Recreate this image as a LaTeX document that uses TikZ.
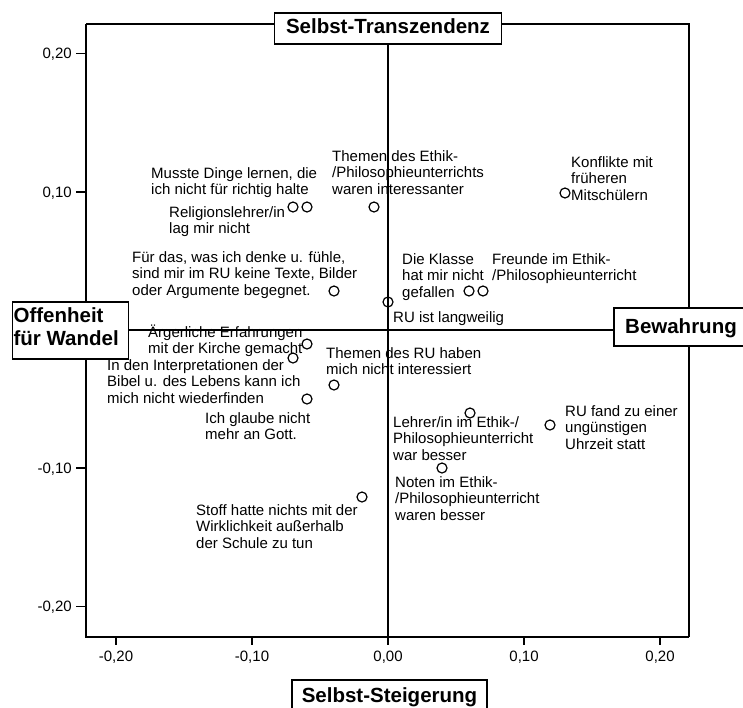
\documentclass[tikz,border=0pt]{standalone}
\usepackage{fontspec}
\setmainfont{Liberation Sans}
\newcommand\mlines[1]{\begin{tabular}[t]{@{}l@{}}#1\end{tabular}}
\begin{document}
\begin{tikzpicture}[x=1pt,y=-1pt,
  lbl/.style={anchor=base west, inner sep=0pt, font=\fontsize{15}{16.5}\selectfont},
  ticklbl/.style={inner sep=0pt, font=\fontsize{15}{18}\selectfont},
  obs/.style={circle, draw, line width=1.2pt, minimum size=10pt, inner sep=0pt},
  axbox/.style={draw, fill=white, line width=1.2pt, inner sep=0pt, font=\fontsize{20.5}{23}\selectfont\bfseries},
  ticks/.style={line width=1.5pt},
]
\useasboundingbox (0,0) rectangle (743,707);
% frame
\coordinate (tl) at (86,24);
\coordinate (tr) at (689,24);
\coordinate (bl) at (86,636.5);
\coordinate (br) at (689,636.5);
\coordinate (O) at (388,330);
\draw[line width=1.5pt] (tl) -- (tr) -- (br);
\draw[line width=2pt] (tl) -- (bl) -- (br);
% y ticks
\foreach \yy/\tx in {53.5/{0,20},192/{0,10},468/{-0,10},606.5/{-0,20}}{
  \coordinate (yt) at (86,\yy);
  \draw[ticks] (yt) -- ++(-10,0);
  \node[ticklbl, anchor=base east] at (72,\yy+5.4) {\tx};
}
% x ticks
\foreach \xx/\tx in {116/{-0,20},252/{-0,10},388/{0,00},524/{0,10},660/{0,20}}{
  \coordinate (xt) at (\xx,636.5);
  \draw[ticks] (xt) -- ++(0,8.5);
  \node[ticklbl, anchor=base] at (\xx,661.5) {\tx};
}
% axis boxes
\node[axbox, anchor=base, minimum width=227pt, text height=20pt, text depth=11pt] (tz) at (388,33) {Selbst-Transzendenz};
\node[axbox, anchor=base, minimum width=134pt, text height=25pt, text depth=13pt] (bew) at (681,333) {Bewahrung};
\node[axbox, anchor=base, minimum width=195pt, text height=22pt, text depth=10pt] (st) at (389.5,702) {Selbst-Steigerung};
\node[axbox, anchor=base west, inner xsep=1pt, text height=20pt, text depth=37pt] (off) at (12,322)
  {\begin{tabular}[t]{@{}p{114pt}@{}}Offenheit\\für Wandel\end{tabular}};
% axes
\draw[line width=1.2pt] (off.east |- O) -- (bew.west |- O);
\draw[line width=1.2pt] (tz.south -| O) -- (O |- bl);
% observations
\node[obs] (p1) at (293,207) {};
\node[obs] (p2) at (307,207) {};
\node[obs] (p3) at (374,207) {};
\node[obs] (p4) at (565,193) {};
\node[obs] (p5) at (334,291) {};
\node[obs] (p6) at (469,291) {};
\node[obs] (p7) at (483,291) {};
\node[obs] (p8) at (388,302) {};
\node[obs] (p9) at (307,344) {};
\node[obs] (p10) at (293,358) {};
\node[obs] (p11) at (334,385) {};
\node[obs] (p12) at (307,399) {};
\node[obs] (p13) at (470,413) {};
\node[obs] (p14) at (550,425) {};
\node[obs] (p15) at (442,468) {};
\node[obs] (p16) at (362,497) {};
% labels
\node[lbl] (l1) at (151,178) {\mlines{Musste Dinge lernen, die\\ich nicht für richtig halte}};
\node[lbl] (l2) at (169,217) {\mlines{Religionslehrer/in\\lag mir nicht}};
\node[lbl] (l3) at (332,161) {\mlines{Themen des Ethik-\\/Philosophieunterrichts\\waren interessanter}};
\node[lbl] (l4) at (571,167) {\mlines{Konflikte mit\\früheren\\Mitschülern}};
\node[lbl] (l5) at (132,262) {\mlines{Für das, was ich denke u. fühle,\\sind mir im RU keine Texte, Bilder\\oder Argumente begegnet.}};
\node[lbl] (l6) at (402,264) {\mlines{Die Klasse\\hat mir nicht\\gefallen}};
\node[lbl] (l7) at (492,264) {\mlines{Freunde im Ethik-\\/Philosophieunterricht}};
\node[lbl] (l8) at (393,322) {RU ist langweilig};
\node[lbl] (l9) at (148,337) {\mlines{Ärgerliche Erfahrungen\\mit der Kirche gemacht}};
\node[lbl] (l10) at (107,370) {\mlines{In den Interpretationen der\\Bibel u. des Lebens kann ich\\mich nicht wiederfinden}};
\node[lbl] (l11) at (326,358) {\mlines{Themen des RU haben\\mich nicht interessiert}};
\node[lbl] (l12) at (205,423) {\mlines{Ich glaube nicht\\mehr an Gott.}};
\node[lbl] (l13) at (393,427) {\mlines{Lehrer/in im Ethik-/\\Philosophieunterricht\\war besser}};
\node[lbl] (l14) at (565,416) {\mlines{RU fand zu einer\\ungünstigen\\Uhrzeit statt}};
\node[lbl] (l15) at (395,487) {\mlines{Noten im Ethik-\\/Philosophieunterricht\\waren besser}};
\node[lbl] (l16) at (196,515) {\mlines{Stoff hatte nichts mit der\\Wirklichkeit außerhalb\\der Schule zu tun}};
\end{tikzpicture}
\end{document}
